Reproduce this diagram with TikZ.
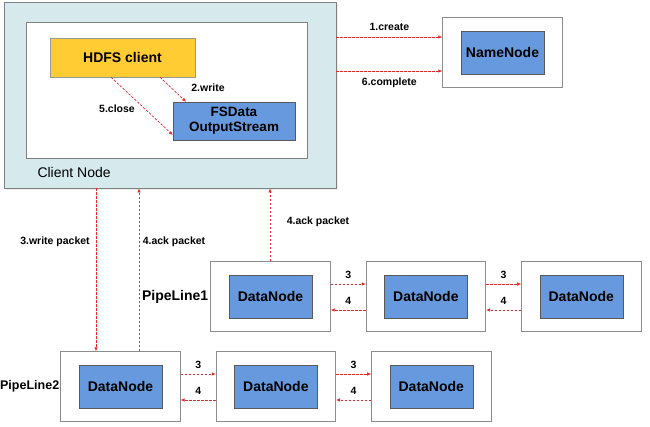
\documentclass[tikz,border=0pt]{standalone}
\usepackage{fontspec}
\setmainfont{Liberation Sans}
\usepackage{xcolor}
\usepackage{tikz}
\usetikzlibrary{positioning}
\usetikzlibrary{fit}
\usetikzlibrary{arrows.meta}
\usetikzlibrary{shadows}

\definecolor{hdfsyellow}{RGB}{255,204,51}
\definecolor{dnblue}{RGB}{102,153,221}
\definecolor{clientbg}{RGB}{214,234,238}
\definecolor{arrred}{RGB}{230,40,40}

\begin{document}
\begin{tikzpicture}[x=1pt, y=-1pt,
		node distance = 72pt,
		big/.style={font=\bfseries\fontsize{14}{16}\selectfont},
		small/.style={text=black, font=\bfseries\fontsize{10.5}{12}\selectfont},
		dn/.style={draw=black!65, fill=dnblue, big,
			minimum width=83pt, minimum height=43pt, inner sep=0pt},
		outer/.style={draw=black!45, line width=0.8pt,
			inner xsep=18pt, inner ysep=13pt},
		arr/.style={-{Latex[length=4pt,width=3.5pt]}, arrred,
			line width=0.7pt, dash pattern=on 2.5pt off 1.5pt}]
	\path [use as bounding box, clip] (0,0) rectangle (650,426);

	% client node
	\node [draw=black!50, fill=clientbg, line width=0.8pt,
			drop shadow={opacity=0.15, shadow xshift=1.5pt, shadow yshift=-1.5pt},
			minimum width=332pt, minimum height=186pt] (client) at (170,95) {};
	\node [draw=black!50, fill=white, line width=0.8pt,
			minimum width=281pt, minimum height=136pt] (clientin) at (166.5,90) {};
	\node [draw=black!40, fill=hdfsyellow, big, inner sep=0pt,
			minimum width=145pt, minimum height=39pt] (hdfs) at (122.5,57.5) {HDFS client};
	\node [dn, minimum width=122pt, minimum height=38pt, align=center,
			font=\bfseries\fontsize{13.5}{15}\selectfont] (fsdata) at (234,121)
			{FSData\\OutputStream};
	\node [anchor=west, font=\fontsize{14}{16}\selectfont] (clientlbl) at (34,172) {Client Node};

	% namenode
	\node [dn] (nn) at (502.5,52.5) {NameNode};
	\node [outer, fit=(nn)] (nnbox) {};

	% pipeline 1
	\node [dn] (dn11) at (270.5,296.5) {DataNode};
	\node [dn, right=of dn11] (dn12) {DataNode};
	\node [dn, right=of dn12] (dn13) {DataNode};
	\node [outer, fit=(dn11)] (box11) {};
	\node [outer, fit=(dn12)] (box12) {};
	\node [outer, fit=(dn13)] (box13) {};
	\node [big, left=1pt of box11, inner sep=1pt] (pl1) {PipeLine1};

	% pipeline 2
	\node [dn] (dn21) at (120.5,386.5) {DataNode};
	\node [dn, right=of dn21] (dn22) {DataNode};
	\node [dn, right=of dn22] (dn23) {DataNode};
	\node [outer, fit=(dn21)] (box21) {};
	\node [outer, fit=(dn22)] (box22) {};
	\node [outer, fit=(dn23)] (box23) {};
	\node [font=\bfseries\fontsize{12.5}{14}\selectfont, left=0.5pt of box21,
		inner sep=0.5pt] (pl2) {PipeLine2};

	% client <-> namenode
	\draw [arr] (client.east |- 0,37) -- (nnbox.west |- 0,37)
		node [small, midway, above=3pt] {1.create};
	\draw [arr] (client.east |- 0,71) -- (nnbox.west |- 0,71)
		node [small, midway, below=3pt] {6.complete};

	% inside client
	\draw [arr] ([xshift=37.5pt]hdfs.south) -- ([xshift=-48pt]fsdata.north);
	\node [small] at (208,88) {2.write};
	\draw [arr] ([xshift=-11.5pt]hdfs.south) -- ([yshift=-14pt]fsdata.west);
	\node [small] at (117,109) {5.close};

	% client <-> datanodes
	\draw [arr] ([xshift=-24.5pt]box21.north |- client.south) -- ([xshift=-24.5pt]box21.north);
	\node [small] at (55,242) {3.write packet};
	\draw [arr] ([xshift=18.5pt]box21.north) -- ([xshift=18.5pt]box21.north |- client.south);
	\node [small] at (174,242) {4.ack packet};
	\draw [arr] ([xshift=-0.5pt]box11.north) -- ([xshift=-0.5pt]box11.north |- client.south);
	\node [small] at (318,222) {4.ack packet};

	% pipelines
	\foreach \a/\b in {box11/box12, box12/box13, box21/box22, box22/box23} {
		\draw [arr] ([yshift=12.5pt]\a.east) -- ([yshift=12.5pt]\b.west)
			node [small, midway, above=2pt] {3};
		\draw [arr] ([yshift=-13.5pt]\b.west) -- ([yshift=-13.5pt]\a.east)
			node [small, midway, above=2pt] {4};
	}
\end{tikzpicture}
\end{document}
